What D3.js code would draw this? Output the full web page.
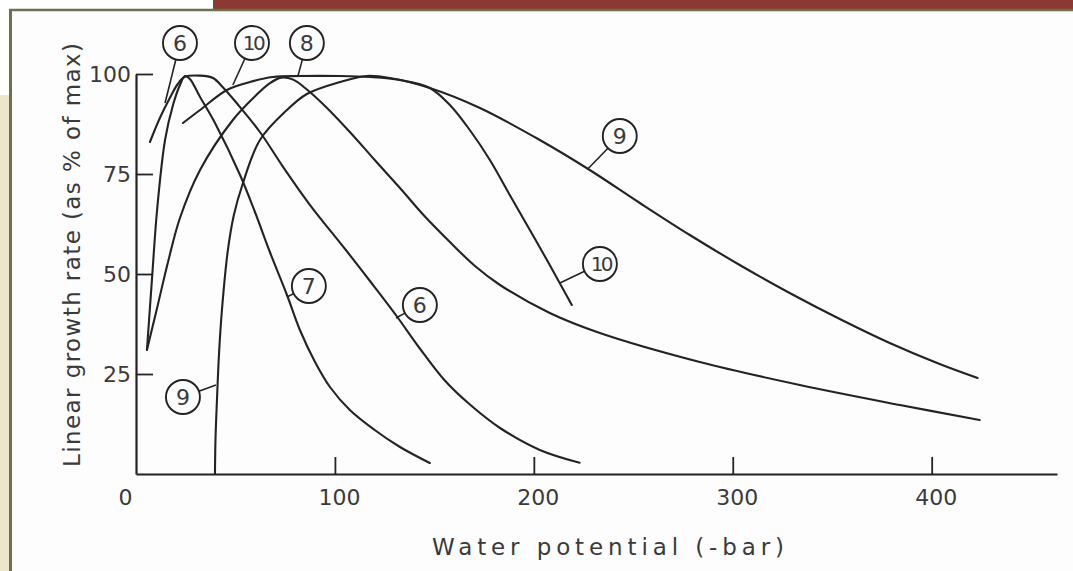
<!DOCTYPE html>
<html>
<head>
<meta charset="utf-8">
<script src="https://cdn.jsdelivr.net/npm/d3@7"></script>
<style>
  html, body { margin: 0; padding: 0; background: #fff; }
  svg { display: block; }
</style>
</head>
<body>
<svg id="chart" width="1073" height="571"></svg>
<script>
// ---------- data ----------
const xTickValues = [0, 100, 200, 300, 400];
const yTickValues = [25, 50, 75, 100];
const xTitle = "Water potential (-bar)";
const yTitle = "Linear growth rate (as % of max)";

// curve points: [water potential (-bar), growth rate (% of max)]
const curve6 = [[7,83],[12,89],[17,94],[21,97.5],[24.6,99.3],[32,99.6],[38.7,99],[44,96.5],[51,92.5],
  [62.3,85.5],[73.9,76.8],[87.4,67.3],[105.5,56],[118,48],[131,39.5],[142.5,31.5],[155,23.5],
  [168,17.3],[183,11.5],[203,6],[223,2.8]];
const curve7 = [[5.5,31],[8,48.5],[10.6,66],[14.6,83.5],[18.6,92.25],[22.1,97.25],[24.6,99.5],
  [27.1,98.75],[32.2,94.25],[39.7,87.75],[52.3,74.75],[59.8,65.5],[67.3,55.5],[75.9,44.75],
  [82.4,36],[90,28],[97.5,21.75],[107.5,16],[120,11],[132.7,6.75],[147.7,2.75]];
const curve8 = [[5.5,31],[10.6,41.5],[16.1,53],[22.1,64],[32.2,76],[48.7,88.5],[60,94.5],
  [67,97.6],[73,99.1],[79,98.6],[85,96.5],[95,92],[107.5,85.5],[120,78.5],[132.7,71.5],
  [145,64.5],[157.8,58],[170.4,52],[183,47.25],[208,40.25],[233.2,35.25],[283.4,28],
  [333.7,22.25],[384,17.25],[424.1,13.5]];
const curve9 = [[39.7,0],[39.95,8.5],[40.7,18.5],[41.7,29.75],[43.2,41],[46.2,56],[49.2,64.75],
  [53.3,72],[62.3,83.5],[75.9,91],[85.9,95],[102.5,98],[116.1,99.5],[127.6,99],[147.7,96.5],
  [172.9,91.5],[203,83.5],[228.1,76],[253.3,67.75],[278.4,59.75],[303.5,52.25],[328.6,45.25],
  [353.8,38.75],[378.9,32.75],[404,27.5],[423.1,24]];
const curve10 = [[23.6,87.75],[32.2,91],[45.7,96],[57.3,98],[68.8,99.25],[82.4,99.5],[102.5,99.5],
  [117.6,99.25],[132.7,98.5],[147.7,96.5],[157.8,92.25],[167.8,86],[177.9,78.5],[187.9,69.75],
  [198,61],[208,52.25],[219.1,42.25]];

const curves = [curve6, curve7, curve8, curve9, curve10];

// circled curve labels: text, label centre (data units), leader end (data units)
const labelText = ["6", "10", "8", "7", "6", "9", "9", "10"];
const labelAt   = [[22.1,107.75],[58.3,107.75],[85.9,107.75],[86.9,47],[142.7,42.25],[23.6,19.25],[243.2,84.5],[233.2,52.5]];
const leaderTo  = [[14.6,92.75],[48.7,97.25],[81.4,99.5],[75.9,44.25],[130.7,39],[40.2,22.25],[227.1,76.25],[213.1,47.75]];

// ---------- drawing ----------
const svg = d3.select("#chart");
const W = 1073, H = 571;
const ink = "#232323";
const textInk = "#3a3a3a";
const font = "DejaVu Sans, Verdana, sans-serif";

// slide background
svg.append("rect").attr("x",0).attr("y",0).attr("width",W).attr("height",H).attr("fill","#ffffff");
svg.append("rect").attr("x",0).attr("y",95).attr("width",10).attr("height",H-95).attr("fill","#ece7cb");
svg.append("rect").attr("x",213).attr("y",0).attr("width",W-213).attr("height",9).attr("fill","#8c3a31");
svg.append("rect").attr("x",10).attr("y",9).attr("width",W-10).attr("height",H-9).attr("fill","#fdfdfd");
svg.append("line").attr("x1",9).attr("x2",W).attr("y1",10).attr("y2",10).attr("stroke","#6c6f50").attr("stroke-width",2.5);
svg.append("line").attr("x1",10.5).attr("x2",10.5).attr("y1",9).attr("y2",H).attr("stroke","#6c6f50").attr("stroke-width",3);

// scales
const x = d3.scaleLinear().domain([0, 463]).range([136, 1057]);
const y = d3.scaleLinear().domain([0, 100]).range([474, 74]);

// x axis
const xAxis = d3.axisBottom(x).tickValues(xTickValues).tickSizeInner(-17).tickSizeOuter(0).tickPadding(22);
const gx = svg.append("g").attr("transform", `translate(0,${y(0)})`).call(xAxis);
gx.select(".domain").attr("stroke", ink).attr("stroke-width", 2.2);
gx.selectAll(".tick line").attr("stroke", ink).attr("stroke-width", 1.8)
  .attr("display", d => d === 0 ? "none" : null);
gx.selectAll(".tick text").attr("font-family", font).attr("font-size", 22).attr("fill", textInk)
  .attr("dx", d => d === 0 ? -11 : 4).attr("dy", "0.45em").attr("y", 21);

// y axis
const yAxis = d3.axisLeft(y).tickValues(yTickValues).tickSizeInner(-17).tickSizeOuter(0).tickPadding(5);
const gy = svg.append("g").attr("transform", `translate(${x(0)},0)`).call(yAxis);
gy.select(".domain").attr("stroke", ink).attr("stroke-width", 2.2);
gy.selectAll(".tick line").attr("stroke", ink).attr("stroke-width", 1.8);
gy.selectAll(".tick text").attr("font-family", font).attr("font-size", 22).attr("fill", textInk);

// axis titles
svg.append("text").attr("x", 608).attr("y", 555).attr("text-anchor", "middle")
  .attr("font-family", font).attr("font-size", 23).attr("fill", textInk)
  .attr("textLength", 352).attr("lengthAdjust", "spacing").text(xTitle);
svg.append("text").attr("transform", "translate(80,255) rotate(-90)").attr("text-anchor", "middle")
  .attr("font-family", font).attr("font-size", 23).attr("fill", textInk)
  .attr("textLength", 424).attr("lengthAdjust", "spacing").text(yTitle);

// curves
const line = d3.line().x(d => x(d[0])).y(d => y(d[1])).curve(d3.curveCatmullRom.alpha(0.5));
svg.append("g").selectAll("path").data(curves).join("path")
  .attr("d", line).attr("fill", "none").attr("stroke", ink).attr("stroke-width", 2.1)
  .attr("stroke-linecap", "round");

// circled labels with leaders
const r = 17;
const lab = svg.append("g");
labelText.forEach((t, i) => {
  const cx = x(labelAt[i][0]), cy = y(labelAt[i][1]);
  const ex = x(leaderTo[i][0]), ey = y(leaderTo[i][1]);
  const dx = ex - cx, dy = ey - cy, len = Math.hypot(dx, dy);
  lab.append("line").attr("x1", cx + dx / len * r).attr("y1", cy + dy / len * r)
    .attr("x2", ex).attr("y2", ey).attr("stroke", ink).attr("stroke-width", 1.6);
  lab.append("circle").attr("cx", cx).attr("cy", cy).attr("r", r)
    .attr("fill", "none").attr("stroke", ink).attr("stroke-width", 1.9);
  lab.append("text").attr("x", cx).attr("y", cy).attr("text-anchor", "middle")
    .attr("dominant-baseline", "central").attr("font-family", font)
    .attr("font-size", t.length > 1 ? 20 : 22).attr("fill", textInk)
    .attr("letter-spacing", t.length > 1 ? -2.5 : 0).attr("dx", t.length > 1 ? 1 : 0).text(t);
});
</script>
</body>
</html>
